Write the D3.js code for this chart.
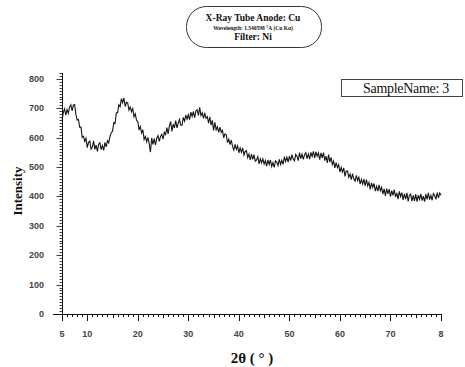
<!DOCTYPE html>
<html>
<head>
<meta charset="utf-8">
<script src="https://cdn.jsdelivr.net/npm/d3@7"></script>
<style>
  html, body { margin: 0; padding: 0; background: #fff; }
  svg { display: block; }
</style>
</head>
<body>
<svg id="chart" width="465" height="367"></svg>
<script>
// ---- data ----
const angleStart = 5, angleStep = 0.25;
const intensity = [
 655,685,698,677,696,683,704,712,691,711,712,679,660,662,636,636,601,605,587,598,
 566,584,588,561,568,589,560,575,553,578,583,559,573,557,584,569,590,582,604,617,
 622,651,648,685,685,712,705,733,719,735,706,720,718,694,704,688,699,671,681,659,
 655,626,638,616,627,594,604,586,601,580,551,599,577,597,575,598,607,587,604,611,
 595,618,611,634,613,640,655,621,646,633,658,633,649,662,642,642,669,656,677,663,
 678,661,687,672,689,668,691,695,676,703,675,685,666,684,666,672,649,671,643,659,
 625,652,627,637,618,636,618,625,599,613,610,583,595,576,592,570,558,577,560,572,
 548,565,550,565,541,553,556,532,544,524,544,526,542,520,524,535,511,528,514,528,
 510,522,503,524,509,524,502,515,499,521,517,505,526,509,523,509,535,519,534,517,
 537,522,542,527,521,543,537,522,549,529,544,526,542,549,529,544,527,550,536,553,
 531,552,537,548,525,548,531,549,522,537,514,542,517,533,508,520,497,515,498,508,
 483,499,483,497,468,486,486,465,476,457,478,459,452,472,454,465,442,458,442,459,
 436,457,436,448,424,446,431,444,418,434,418,439,419,431,408,426,402,427,409,425,
 399,420,404,423,398,412,391,417,400,413,388,409,391,412,383,404,408,384,404,385,
 408,382,404,390,409,386,401,382,408,390,412,389,403,387,410,403,390,413,395,412,
 404
];
const xTickValues = [5, 10, 20, 30, 40, 50, 60, 70, 80];
const xTickLabels = ["5", "10", "20", "30", "40", "50", "60", "70", "8"];
const yTickValues = [0, 100, 200, 300, 400, 500, 600, 700, 800];
const yTickLabels = ["0", "100", "200", "300", "400", "500", "600", "700", "800"];
const titleLines = ["X-Ray Tube Anode: Cu", "Wavelength: 1.540598 °A (Cu Kα)", "Filter: Ni"];
const sampleLabel = "SampleName: 3";
const xLabel = "2θ ( ° )";
const yLabel = "Intensity";

const points = intensity.map((v, i) => ({ a: angleStart + i * angleStep, v }));

// ---- scales ----
const svg = d3.select("#chart");
const x = d3.scaleLinear().domain([5, 80]).range([62, 441]);
const y = d3.scaleLinear().domain([0, 820]).range([314, 73]);

const axisColor = "#111";

// x axis line
svg.append("line").attr("x1", 53).attr("x2", 441)
  .attr("y1", y(0) + 0.5).attr("y2", y(0) + 0.5)
  .attr("stroke", axisColor).attr("stroke-width", 1);

// x ticks (minor every 1, major every 10)
const xMinor = d3.range(5, 81, 1);
svg.append("g").selectAll("line").data(xMinor).join("line")
  .attr("x1", d => Math.round(x(d)) + 0.5).attr("x2", d => Math.round(x(d)) + 0.5)
  .attr("y1", y(0)).attr("y2", d => y(0) + (d % 10 === 0 || d === 5 ? 7 : (d % 5 === 0 ? 4 : 3)))
  .attr("stroke", axisColor).attr("stroke-width", 1);

svg.append("g").selectAll("text").data(xTickValues).join("text")
  .attr("x", d => x(d)).attr("y", 337)
  .attr("text-anchor", "middle")
  .attr("font-family", "Liberation Sans, Arial, sans-serif")
  .attr("font-size", 9).attr("font-weight", "bold").attr("fill", "#444")
  .text((d, i) => xTickLabels[i]);

// y axis
svg.append("line").attr("x1", 62.5).attr("x2", 62.5)
  .attr("y1", y(820)).attr("y2", y(0))
  .attr("stroke", axisColor).attr("stroke-width", 1);

const yMinor = d3.range(0, 821, 10);
svg.append("g").selectAll("line").data(yMinor).join("line")
  .attr("x1", 62.5).attr("x2", d => 62.5 - (d % 100 === 0 ? 6 : 3))
  .attr("y1", d => Math.round(y(d)) + 0.5).attr("y2", d => Math.round(y(d)) + 0.5)
  .attr("stroke", axisColor).attr("stroke-width", 0.8);

svg.append("g").selectAll("text").data(yTickValues).join("text")
  .attr("x", 44).attr("y", d => y(d) + 3)
  .attr("text-anchor", "end")
  .attr("font-family", "Liberation Sans, Arial, sans-serif")
  .attr("font-size", 9).attr("font-weight", "bold").attr("fill", "#444")
  .text((d, i) => yTickLabels[i]);

// data line
const line = d3.line().x(d => x(d.a)).y(d => y(d.v));
svg.append("path").datum(points)
  .attr("d", line).attr("fill", "none")
  .attr("stroke", "#151515").attr("stroke-width", 1.1);

// axis labels
svg.append("text")
  .attr("transform", `translate(22,191) rotate(-90)`)
  .attr("text-anchor", "middle")
  .attr("font-family", "Liberation Serif, Times New Roman, serif")
  .attr("font-size", 13).attr("font-weight", "bold").attr("fill", "#111")
  .text(yLabel);

svg.append("text")
  .attr("x", 252).attr("y", 363)
  .attr("text-anchor", "middle")
  .attr("font-family", "Liberation Serif, Times New Roman, serif")
  .attr("font-size", 15).attr("font-weight", "bold").attr("fill", "#111")
  .text(xLabel);

// title pill
svg.append("rect").attr("x", 186.5).attr("y", 6.5).attr("width", 135).attr("height", 41)
  .attr("rx", 20).attr("ry", 20)
  .attr("fill", "#fff").attr("stroke", "#333").attr("stroke-width", 1);
const tSizes = [9.5, 5.5, 9.5];
const tYs = [21, 30, 40];
svg.append("g").selectAll("text").data(titleLines).join("text")
  .attr("x", 253).attr("y", (d, i) => tYs[i])
  .attr("text-anchor", "middle")
  .attr("font-family", "Liberation Serif, Times New Roman, serif")
  .attr("font-weight", "bold")
  .attr("font-size", (d, i) => tSizes[i]).attr("fill", "#111")
  .text(d => d);

// sample name box
svg.append("rect").attr("x", 341.5).attr("y", 79.5).attr("width", 121).attr("height", 17)
  .attr("fill", "#fff").attr("stroke", "#444").attr("stroke-width", 1);
svg.append("text").attr("x", 406).attr("y", 93)
  .attr("text-anchor", "middle")
  .attr("font-family", "Liberation Serif, Times New Roman, serif")
  .attr("font-size", 14).attr("letter-spacing", -0.3).attr("fill", "#111")
  .text(sampleLabel);
</script>
</body>
</html>
